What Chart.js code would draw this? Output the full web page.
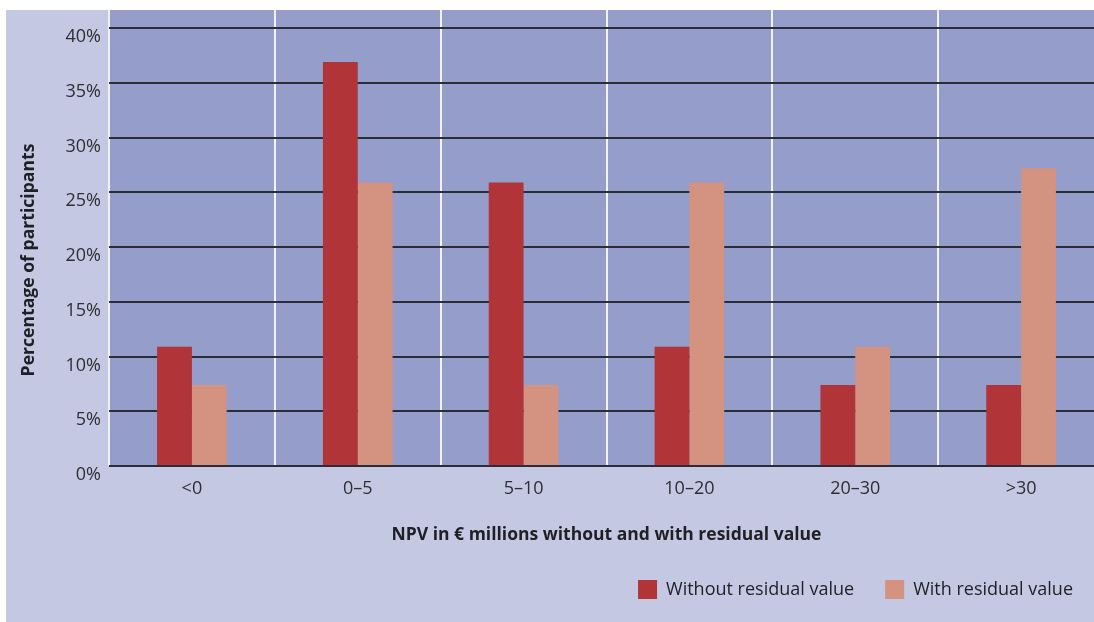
<!DOCTYPE html>
<html>
<head>
<meta charset="utf-8">
<title>NPV distribution</title>
<script src="https://cdn.jsdelivr.net/npm/chart.js@4.4.1/dist/chart.umd.min.js"></script>
<style>
  html, body { margin: 0; padding: 0; background: #ffffff; overflow: hidden; }
  #wrap { position: relative; width: 1104px; height: 622px; }
</style>
</head>
<body>
<div id="wrap"><canvas id="chart"></canvas></div>
<script>
// NPV bands (€ millions)
const categories = ['<0', '0–5', '5–10', '10–20', '20–30', '>30'];
// share of participants, %
const withoutResidual = [10.9, 36.9, 25.9, 10.9, 7.4, 7.4];
const withResidual = [7.4, 25.9, 7.4, 25.9, 10.9, 27.2];
const seriesNames = ['Without residual value', 'With residual value'];
// y-axis tick values, %
const yTicks = [0, 5, 10, 15, 20, 25, 30, 35, 40];
const yTitle = 'Percentage of participants';
const xTitle = 'NPV in € millions without and with residual value';

const FONT = '"Open Sans", Lato, sans-serif';
Chart.defaults.font.family = FONT;
Chart.defaults.color = '#2e2e33';

// page and plot backgrounds
const backdrop = {
  id: 'backdrop',
  beforeDraw(chart) {
    const { ctx, width, height, chartArea: a } = chart;
    ctx.save();
    ctx.fillStyle = '#ffffff';
    ctx.fillRect(0, 0, width, height);
    ctx.fillStyle = '#c5c8e3';
    ctx.fillRect(6, 10, width - 6, height - 10);
    ctx.fillStyle = '#959dca';
    ctx.fillRect(a.left, a.top, a.right - a.left, a.bottom - a.top);
    ctx.restore();
  }
};

// rotated y-axis caption
const sideCaption = {
  id: 'sideCaption',
  afterDraw(chart) {
    const { ctx } = chart;
    ctx.save();
    ctx.translate(29, 260);
    ctx.rotate(-Math.PI / 2);
    ctx.font = 'bold 17.6px ' + FONT;
    ctx.fillStyle = '#1f1f24';
    ctx.textAlign = 'center';
    ctx.textBaseline = 'middle';
    ctx.fillText(yTitle, 0, 0);
    ctx.restore();
  }
};

new Chart(document.getElementById('chart'), {
  type: 'bar',
  data: {
    labels: categories,
    datasets: [
      { label: seriesNames[0], data: withoutResidual, backgroundColor: '#b03438' },
      { label: seriesNames[1], data: withResidual, backgroundColor: '#d49281' }
    ]
  },
  options: {
    responsive: true,
    maintainAspectRatio: false,
    animation: false,
    layout: { padding: { top: 10, left: 0, right: 0, bottom: 13 } },
    datasets: { bar: { categoryPercentage: 0.42, barPercentage: 1.0, borderWidth: 0 } },
    plugins: {
      tooltip: { enabled: false },
      legend: {
        position: 'bottom',
        align: 'end',
        labels: {
          boxWidth: 19,
          boxHeight: 19,
          padding: 31,
          color: '#1f1f24',
          font: { size: 18 }
        }
      }
    },
    scales: {
      x: {
        offset: true,
        afterFit(scale) {
          scale.height = 83;
          scale.paddingLeft = 0;
          scale.paddingRight = 0;
        },
        grid: { offset: true, color: '#f2f2fa', lineWidth: 2, drawTicks: false },
        border: { display: false },
        ticks: { padding: 12, font: { size: 18 }, color: '#2e2e33' },
        title: {
          display: true,
          text: xTitle,
          font: { size: 17.5, weight: 'bold' },
          color: '#1f1f24',
          padding: { top: 0, bottom: 3 }
        }
      },
      y: {
        min: 0,
        max: 41.65,
        afterFit(scale) {
          scale.width = 109;
          scale.paddingTop = 0;
          scale.paddingBottom = 0;
        },
        afterBuildTicks(scale) {
          scale.ticks = yTicks.map(v => ({ value: v }));
        },
        grid: { color: '#2a2c38', lineWidth: 2, drawTicks: false },
        border: { display: false },
        ticks: {
          padding: 8,
          labelOffset: 9,
          font: { size: 18 },
          color: '#2e2e33',
          callback: v => v + '%'
        }
      }
    }
  },
  plugins: [backdrop, sideCaption]
});
</script>
</body>
</html>
